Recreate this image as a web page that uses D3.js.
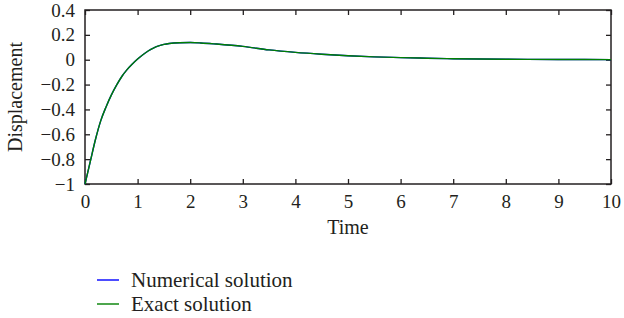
<!DOCTYPE html>
<html>
<head>
<meta charset="utf-8">
<script src="https://cdn.jsdelivr.net/npm/d3@7"></script>
<style>
    body { margin: 0; background: #fff; }
    text { font-family: "Liberation Serif", "DejaVu Serif", serif; fill: #231f20; }
</style>
</head>
<body>
<div id="chart"></div>
<script>
// values
const time = [0, 0.1, 0.2, 0.3, 0.4, 0.5, 0.6, 0.7, 0.8, 0.9, 1.0, 1.1, 1.2, 1.3, 1.4, 1.5, 1.6, 1.8, 2.0, 2.2, 2.5, 3.0, 3.5, 4.0, 4.5, 5.0, 5.5, 6.0, 6.5, 7.0, 8.0, 9.0, 10.0]
const numerical = [-1, -0.82, -0.64, -0.49, -0.38, -0.285, -0.205, -0.135, -0.08, -0.035, 0.005, 0.04, 0.07, 0.094, 0.111, 0.123, 0.131, 0.137, 0.138, 0.135, 0.126, 0.107, 0.079, 0.059, 0.044, 0.032, 0.023, 0.017, 0.012, 0.008, 0.004, 0.002, 0.001]
const exact = [-1, -0.82, -0.64, -0.49, -0.38, -0.285, -0.205, -0.135, -0.08, -0.035, 0.005, 0.04, 0.07, 0.094, 0.111, 0.123, 0.131, 0.137, 0.138, 0.135, 0.126, 0.107, 0.079, 0.059, 0.044, 0.032, 0.023, 0.017, 0.012, 0.008, 0.004, 0.002, 0.001]
const xTicks = [0, 1, 2, 3, 4, 5, 6, 7, 8, 9, 10]
const yTicks = [-1, -0.8, -0.6, -0.4, -0.2, 0, 0.2, 0.4]
const seriesNames = ["Numerical solution", "Exact solution"]
const seriesColors = ["#0000ff", "#008000"]

const width = 624
const height = 318
const margin = {top: 10, right: 13, bottom: 134, left: 85}
const serif = "'Liberation Serif', 'DejaVu Serif', serif"
const tickFont = 19
const labelFont = 20
const legendFont = 21

const svg = d3.select("#chart")
    .append("svg")
    .attr("width", width)
    .attr("height", height)

const x = d3.scaleLinear().domain([0, 10]).range([margin.left, width - margin.right])
const y = d3.scaleLinear().domain([-1, 0.4]).range([height - margin.bottom, margin.top])

const yFormat = function(d) {
    if (d === 0) return "0"
    if (d === -1) return "\u22121"
    return d3.format(".1f")(d)
}

// axes, ticks pointing inwards on all four sides
const axes = [
    svg.append("g")
        .attr("transform", "translate(0," + y(-1) + ")")
        .call(d3.axisBottom(x).tickValues(xTicks).tickSize(-5).tickPadding(11).tickFormat(d3.format("d"))),
    svg.append("g")
        .attr("transform", "translate(0," + y(0.4) + ")")
        .call(d3.axisTop(x).tickValues(xTicks).tickSize(-5).tickFormat("")),
    svg.append("g")
        .attr("transform", "translate(" + x(0) + ",0)")
        .call(d3.axisLeft(y).tickValues(yTicks).tickSize(-5).tickPadding(10).tickFormat(yFormat)),
    svg.append("g")
        .attr("transform", "translate(" + x(10) + ",0)")
        .call(d3.axisRight(y).tickValues(yTicks).tickSize(-5).tickFormat(""))
]
axes.forEach(function(g) {
    g.attr("font-family", serif).attr("font-size", tickFont)
})

svg.selectAll(".domain").remove()
svg.selectAll(".tick line").attr("stroke", "#231f20").attr("stroke-width", 1.3)
svg.selectAll(".tick text")
    .style("font-family", serif)
    .style("font-size", tickFont + "px")
    .attr("fill", "#231f20")

svg.append("rect")
    .attr("x", x(0))
    .attr("y", y(0.4))
    .attr("width", x(10) - x(0))
    .attr("height", y(-1) - y(0.4))
    .attr("fill", "none")
    .attr("stroke", "#231f20")
    .attr("stroke-width", 1.5)

const line = d3.line()
    .x(function(d) { return x(d[0]) })
    .y(function(d) { return y(d[1]) })
    .curve(d3.curveMonotoneX)

const series = [numerical, exact]
series.forEach(function(vals, i) {
    svg.append("path")
        .datum(time.map(function(t, j) { return [t, vals[j]] }))
        .attr("d", line)
        .attr("fill", "none")
        .attr("stroke", seriesColors[i])
        .attr("stroke-width", 1.4)
})

// axis titles
svg.append("text")
    .attr("x", (x(0) + x(10)) / 2)
    .attr("y", 234)
    .attr("text-anchor", "middle")
    .style("font-size", labelFont + "px")
    .text("Time")

svg.append("text")
    .attr("transform", "translate(22," + (y(-1) + y(0.4)) / 2 + ") rotate(-90)")
    .attr("text-anchor", "middle")
    .style("font-size", labelFont + "px")
    .text("Displacement")

// legend
const legend = svg.selectAll(".legend")
    .data(seriesNames)
    .enter()
    .append("g")
    .attr("transform", function(d, i) { return "translate(97," + (280 + i * 24) + ")" })
legend.append("line")
    .attr("x1", 0).attr("x2", 22)
    .attr("stroke", function(d, i) { return seriesColors[i] })
    .attr("stroke-width", 1.4)
legend.append("text")
    .attr("x", 34)
    .attr("dy", "0.35em")
    .style("font-size", legendFont + "px")
    .text(function(d) { return d })
</script>
</body>
</html>
